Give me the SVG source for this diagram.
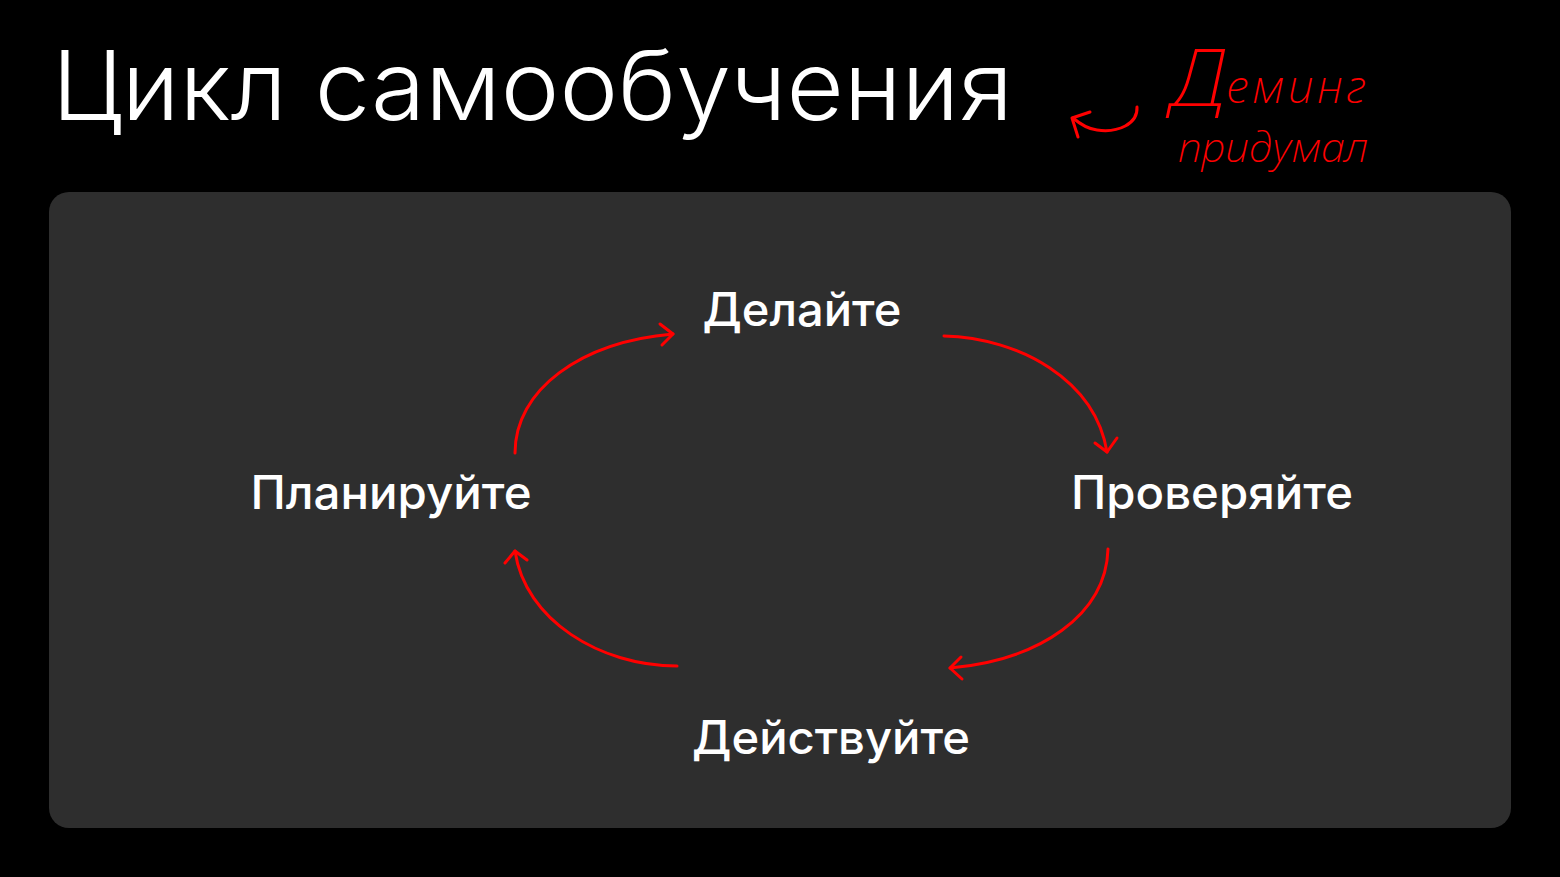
<svg xmlns="http://www.w3.org/2000/svg" width="1560" height="877" viewBox="0 0 1560 877">
  <defs>
    <style>
      .title { font-family: Inter, "Noto Sans", "Liberation Sans", sans-serif; font-weight: 300; font-size: 96px; fill: #ffffff; }
      .label { font-family: Inter, "Noto Sans", "Liberation Sans", sans-serif; font-weight: 500; font-size: 46px; fill: #ffffff; text-anchor: middle; }
      .hand { font-family: "Noto Sans", "DejaVu Sans", sans-serif; font-style: italic; font-weight: 200; fill: #ff0000; }
      .arc { fill: none; stroke: #ff0000; stroke-width: 3; stroke-linecap: round; stroke-linejoin: round; }
    </style>
  </defs>
  <rect x="0" y="0" width="1560" height="877" fill="#000000"/>
  <rect id="panel" x="49" y="192" width="1462" height="636" rx="20" fill="#2e2e2e"/>

  <g id="title">
    <text class="title" x="52" y="120" textLength="961" lengthAdjust="spacingAndGlyphs">Цикл самообучения</text>
  </g>

  <g id="note">
    <path class="arc" d="M1137,107 C1138,124 1118,133 1097,130 C1088,129 1080,124 1073,118"/>
    <path class="arc" d="M1090,112 L1072,118 L1078,137"/>
    <text class="hand" x="1172" y="106"><tspan font-size="80">Д</tspan><tspan font-size="46" dy="-3" letter-spacing="4">еминг</tspan></text>
    <text class="hand" x="1178" y="162" font-size="40" textLength="190" lengthAdjust="spacingAndGlyphs">придумал</text>
  </g>

  <g id="node-do">
    <text class="label" x="802" y="326" textLength="199" lengthAdjust="spacingAndGlyphs">Делайте</text>
  </g>
  <g id="node-check">
    <text class="label" x="1212" y="509" textLength="282" lengthAdjust="spacingAndGlyphs">Проверяйте</text>
  </g>
  <g id="node-act">
    <text class="label" x="831" y="754" textLength="278" lengthAdjust="spacingAndGlyphs">Действуйте</text>
  </g>
  <g id="node-plan">
    <text class="label" x="391" y="509" textLength="281" lengthAdjust="spacingAndGlyphs">Планируйте</text>
  </g>

  <g id="connectors">
    <path class="arc" d="M515,453 C515,390 580,342 673,334"/>
    <path class="arc" d="M660,324 L673,334 L662,345"/>
    <path class="arc" d="M944,336 C1020,338 1095,380 1107,452"/>
    <path class="arc" d="M1095,443 L1107,452 L1117,438"/>
    <path class="arc" d="M1108,549 C1106,615 1040,660 950,668"/>
    <path class="arc" d="M961,657 L950,668 L962,679"/>
    <path class="arc" d="M677,666 C600,666 525,620 515,551"/>
    <path class="arc" d="M505,563 L515,551 L527,560"/>
  </g>
</svg>
